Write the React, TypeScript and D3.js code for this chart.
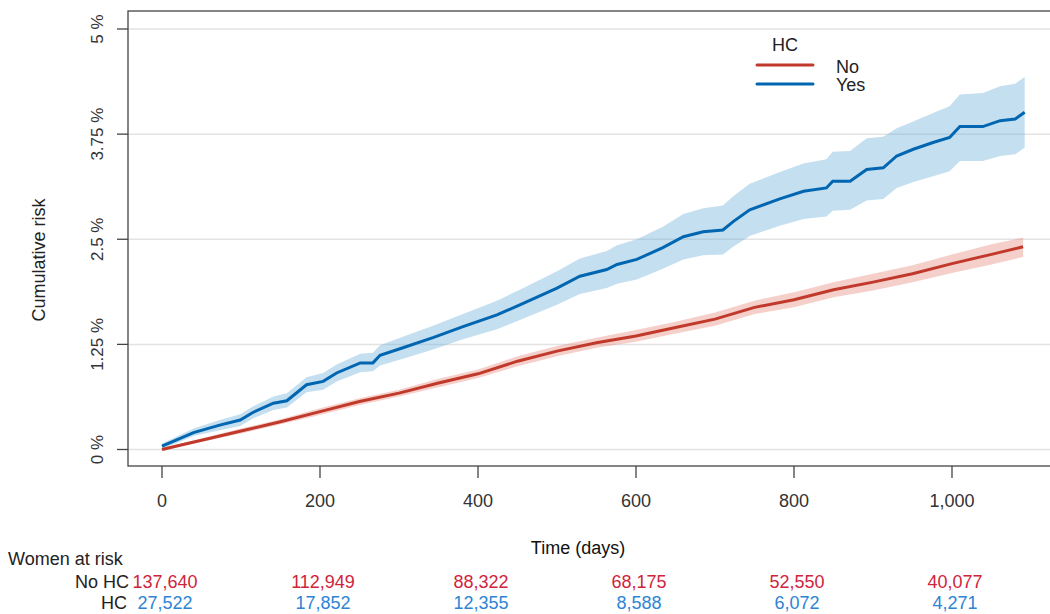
import React from "react";
import * as d3 from "d3";

// Kaplan-Meier style cumulative risk
const yesDays = [0, 20, 40, 73, 99, 115, 141, 158, 183, 204, 221, 251, 267, 276, 305, 343, 381, 424, 453, 500, 529, 563, 576, 601, 634, 660, 685, 710, 723, 744, 782, 812, 841, 849, 871, 892, 913, 930, 951, 976, 997, 1010, 1039, 1061, 1080, 1092];
const yesRisk = [0.04, 0.12, 0.2, 0.29, 0.35, 0.44, 0.55, 0.58, 0.77, 0.81, 0.91, 1.03, 1.03, 1.12, 1.21, 1.33, 1.46, 1.6, 1.72, 1.92, 2.06, 2.14, 2.2, 2.26, 2.4, 2.53, 2.59, 2.61, 2.71, 2.85, 2.98, 3.07, 3.11, 3.19, 3.19, 3.33, 3.35, 3.49, 3.57, 3.65, 3.71, 3.84, 3.84, 3.91, 3.93, 4.01];
const yesLower = [0.01, 0.08, 0.16, 0.23, 0.28, 0.37, 0.47, 0.5, 0.68, 0.71, 0.81, 0.92, 0.93, 1.0, 1.08, 1.19, 1.31, 1.43, 1.54, 1.72, 1.85, 1.92, 1.97, 2.02, 2.15, 2.26, 2.31, 2.32, 2.41, 2.54, 2.66, 2.74, 2.77, 2.84, 2.85, 2.96, 2.98, 3.11, 3.18, 3.25, 3.31, 3.43, 3.43, 3.49, 3.51, 3.59];
const yesUpper = [0.07, 0.16, 0.25, 0.35, 0.42, 0.51, 0.63, 0.67, 0.86, 0.91, 1.01, 1.14, 1.15, 1.24, 1.34, 1.47, 1.61, 1.77, 1.9, 2.12, 2.27, 2.36, 2.43, 2.5, 2.65, 2.8, 2.87, 2.9, 3.01, 3.16, 3.3, 3.4, 3.45, 3.54, 3.55, 3.7, 3.72, 3.82, 3.9, 4.0, 4.08, 4.22, 4.24, 4.32, 4.35, 4.43];

const noDays = [0, 50, 100, 150, 200, 250, 300, 350, 400, 450, 500, 550, 600, 650, 700, 750, 800, 850, 900, 950, 1000, 1050, 1090];
const noRisk = [0, 0.11, 0.22, 0.33, 0.45, 0.57, 0.67, 0.79, 0.9, 1.05, 1.17, 1.27, 1.35, 1.45, 1.55, 1.69, 1.78, 1.9, 1.99, 2.09, 2.21, 2.32, 2.41];
const noLower = [0, 0.09, 0.19, 0.3, 0.41, 0.53, 0.63, 0.74, 0.85, 0.99, 1.11, 1.21, 1.28, 1.38, 1.47, 1.61, 1.69, 1.81, 1.89, 1.99, 2.1, 2.2, 2.29];
const noUpper = [0.02, 0.13, 0.25, 0.36, 0.49, 0.61, 0.71, 0.84, 0.95, 1.11, 1.23, 1.33, 1.42, 1.52, 1.63, 1.77, 1.87, 1.99, 2.09, 2.19, 2.32, 2.44, 2.52];

const xTicks = [0, 200, 400, 600, 800, 1000];
const yTicks = [0, 1.25, 2.5, 3.75, 5];
const yTickLabels = ["0 %", "1.25 %", "2.5 %", "3.75 %", "5 %"];
const atRiskNo = ["137,640", "112,949", "88,322", "68,175", "52,550", "40,077"];
const atRiskHc = ["27,522", "17,852", "12,355", "8,588", "6,072", "4,271"];

const RED = "#c0392b";
const BLUE = "#0066b2";
const font = "'Liberation Sans', Arial, sans-serif";

type Pt = { d: number; v: number; lo: number; hi: number };

export default function App() {
  const panel = { left: 128, top: 11, bottom: 466 };
  const x = d3.scaleLinear().domain([0, 1000]).range([162, 952]);
  const y = d3.scaleLinear().domain([0, 5]).range([449.5, 29]);

  const yes: Pt[] = yesDays.map((d, i) => ({ d, v: yesRisk[i], lo: yesLower[i], hi: yesUpper[i] }));
  const no: Pt[] = noDays.map((d, i) => ({ d, v: noRisk[i], lo: noLower[i], hi: noUpper[i] }));

  const band = d3.area<Pt>().x(p => x(p.d)).y0(p => y(p.lo)).y1(p => y(p.hi));
  const line = d3.line<Pt>().x(p => x(p.d)).y(p => y(p.v));

  return (
    <svg width={1050} height={614} style={{ position: "absolute", left: 0, top: 0 }} fontFamily={font}>
      <rect width={1050} height={614} fill="#fff" />
      {yTicks.map(t => (
        <line key={t} x1={panel.left} x2={1050} y1={y(t)} y2={y(t)} stroke="#e3e3e3" strokeWidth={1.5} />
      ))}
      <path d={band(no) || ""} fill="#e6867a" fillOpacity={0.4} />
      <path d={band(yes) || ""} fill="#6baed6" fillOpacity={0.4} />
      <path d={line(no) || ""} fill="none" stroke={RED} strokeWidth={3} />
      <path d={line(yes) || ""} fill="none" stroke={BLUE} strokeWidth={3} />

      <rect x={panel.left} y={panel.top} width={1060 - panel.left} height={panel.bottom - panel.top} fill="none" stroke="#444" strokeWidth={1.3} />

      {yTicks.map((t, i) => (
        <g key={t}>
          <line x1={117} x2={panel.left} y1={y(t)} y2={y(t)} stroke="#444" strokeWidth={1.3} />
          <text transform={`translate(103,${y(t)}) rotate(-90)`} textAnchor="middle" fontSize={17} fill="#333">{yTickLabels[i]}</text>
        </g>
      ))}
      <text transform="translate(45,260) rotate(-90)" textAnchor="middle" fontSize={18} fill="#222">Cumulative risk</text>

      {xTicks.map(t => (
        <g key={t}>
          <line x1={x(t)} x2={x(t)} y1={panel.bottom} y2={478} stroke="#444" strokeWidth={1.3} />
          <text x={x(t)} y={507} textAnchor="middle" fontSize={18} fill="#333">{d3.format(",")(t)}</text>
        </g>
      ))}
      <text x={578} y={554} textAnchor="middle" fontSize={18} fill="#111">Time (days)</text>

      {/* legend */}
      <text x={785} y={51} textAnchor="middle" fontSize={18} fill="#222">HC</text>
      <line x1={757} x2={813} y1={65} y2={65} stroke={RED} strokeWidth={3} strokeLinecap="round" />
      <line x1={757} x2={813} y1={84} y2={84} stroke={BLUE} strokeWidth={3} strokeLinecap="round" />
      <text x={836} y={73} fontSize={18} fill="#222">No</text>
      <text x={836} y={91} fontSize={18} fill="#222">Yes</text>

      {/* risk table */}
      <text x={8} y={565} fontSize={18} fill="#222">Women at risk</text>
      <text x={129} y={588} textAnchor="end" fontSize={18} fill="#222">No HC</text>
      <text x={127} y={609} textAnchor="end" fontSize={18} fill="#222">HC</text>
      {xTicks.map((t, i) => (
        <g key={t}>
          <text x={x(t) + 3} y={588} textAnchor="middle" fontSize={18} fill="#d0243c">{atRiskNo[i]}</text>
          <text x={x(t) + 3} y={609} textAnchor="middle" fontSize={18} fill="#2d84d4">{atRiskHc[i]}</text>
        </g>
      ))}
    </svg>
  );
}
